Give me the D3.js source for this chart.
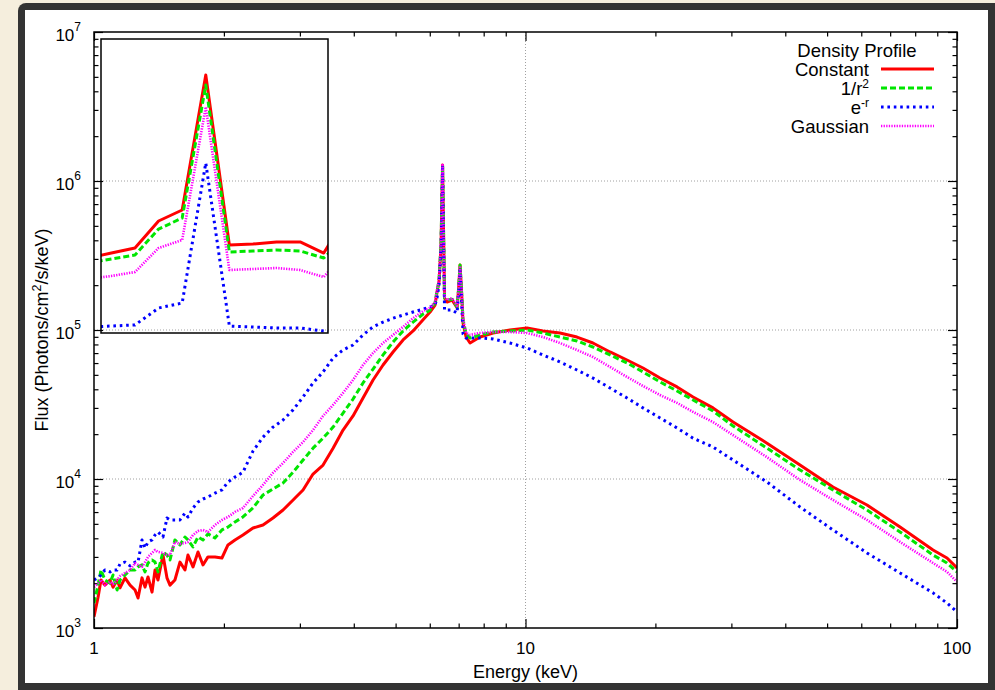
<!DOCTYPE html>
<html>
<head>
<meta charset="utf-8">
<script src="https://cdn.jsdelivr.net/npm/d3@7"></script>
<style>
  body { margin: 0; background: #f5eedd; }
  text { font-family: "Liberation Sans", Arial, Helvetica, sans-serif; fill: #000; }
</style>
</head>
<body>
<div id="chart-area"></div>
<script>

// energy grid (keV)
var energy = [1.000, 1.022, 1.038, 1.060, 1.089, 1.107, 1.131, 1.149, 1.180, 1.212,
  1.245, 1.265, 1.292, 1.313, 1.334, 1.363, 1.385, 1.407, 1.445, 1.476,
  1.500, 1.540, 1.582, 1.625, 1.651, 1.696, 1.742, 1.789, 1.837, 1.907,
  1.979, 2.044, 2.122, 2.214, 2.336, 2.464, 2.599, 2.742, 2.893, 3.051,
  3.218, 3.395, 3.581, 3.777, 3.984, 4.202, 4.433, 4.676, 4.932, 5.203,
  5.488, 5.789, 6.009, 6.171, 6.236, 6.303, 6.372, 6.424, 6.492, 6.579,
  6.757, 6.940, 6.995, 7.052, 7.109, 7.166, 7.282, 7.438, 7.845, 8.409,
  9.205, 10.08, 10.98, 12.02, 13.16, 14.33, 15.70, 17.19, 18.72, 20.50,
  22.45, 24.45, 27.20, 30.27, 36.28, 43.27, 51.60, 61.86, 73.80, 87.99,
  94.80, 100.0];

var fluxConstant = [1190, 1610, 2100, 1940, 2100, 1880, 2100, 1860, 2170, 1940,
  1800, 1590, 2170, 1880, 2200, 1740, 2450, 2100, 3090, 2170,
  1940, 2100, 2770, 2450, 3090, 2570, 3240, 2650, 3000, 3000,
  2950, 3610, 3900, 4210, 4690, 4910, 5470, 6190, 7230, 8440,
  10800, 12400, 16100, 21300, 26500, 35000, 46200, 58200, 71200, 85700,
  98500, 117000, 132000, 147000, 180000, 210000, 372000, 1280000, 164000, 154000,
  159000, 141000, 186000, 273000, 180000, 111000, 89700, 81800, 89700, 95500,
  100000, 103000, 98500, 95500, 89700, 81800, 71200, 62900, 55600, 47600,
  41500, 35500, 30000, 24100, 17400, 12400, 8840, 6690, 4760, 3340,
  2950, 2530];

var fluxInvR2 = [1470, 1940, 2450, 2100, 2000, 2270, 1800, 2100, 2270, 2450,
  2450, 2570, 2650, 2380, 2730, 2860, 2770, 2380, 3240, 3090,
  2860, 3900, 3610, 4080, 3900, 3500, 4080, 3900, 4280, 4020,
  4550, 4760, 5150, 5560, 6390, 7810, 8570, 9400, 11100, 13400,
  16100, 18800, 22300, 27700, 34400, 44100, 54700, 68000, 83100, 98500,
  113000, 128000, 136000, 152000, 183000, 213000, 384000, 1280000, 164000, 159000,
  161000, 143000, 186000, 273000, 183000, 117000, 94000, 88400, 92600, 97000,
  98500, 100000, 95500, 89700, 84400, 76900, 68000, 60100, 52300, 44800,
  39000, 33900, 28600, 22700, 16100, 11500, 8440, 6190, 4410, 3090,
  2730, 2380];

var fluxExp = [2100, 2170, 2270, 2450, 2380, 2450, 2450, 2690, 2770, 2610,
  2770, 2770, 3900, 3440, 3780, 3900, 4210, 4410, 4080, 5470,
  5310, 5310, 5310, 5910, 5560, 6390, 7010, 7340, 7570, 8050,
  8440, 9550, 10300, 11100, 15400, 19100, 22300, 24900, 29100, 35500,
  44100, 52300, 64900, 73400, 79300, 92600, 105000, 113000, 120000, 126000,
  132000, 138000, 143000, 147000, 164000, 200000, 344000, 1280000, 136000, 136000,
  136000, 130000, 172000, 253000, 159000, 94000, 88400, 88400, 88400, 87000,
  81800, 75700, 68000, 61000, 53900, 47600, 40800, 35000, 30000, 25700,
  22000, 18800, 16400, 13400, 9550, 6490, 4550, 3190, 2340, 1720,
  1470, 1280];

var fluxGauss = [1880, 2000, 2100, 1940, 2040, 1970, 2100, 2230, 2340, 2450,
  2730, 2650, 2570, 2770, 3000, 3190, 3340, 3240, 3190, 3090,
  3090, 3780, 3660, 3720, 3780, 4210, 4480, 4550, 4410, 4910,
  5310, 5560, 6010, 6390, 7690, 9120, 11000, 12800, 15200, 17700,
  21300, 26500, 31400, 37800, 46200, 58200, 70100, 81800, 92600, 105000,
  120000, 134000, 141000, 154000, 186000, 217000, 390000, 1280000, 167000, 159000,
  164000, 145000, 186000, 269000, 186000, 120000, 95500, 92600, 95500, 97000,
  97000, 95500, 89700, 81800, 73400, 65900, 56500, 48400, 42100, 36600,
  32400, 28200, 24100, 19700, 14000, 9850, 7230, 5310, 3780, 2730,
  2380, 2040];

// inset: zoom on the Fe K alpha line
var insetEnergy = [6.35, 6.36, 6.37, 6.38, 6.39, 6.40, 6.41, 6.42, 6.43, 6.44, 6.45, 6.46];
var insetConstant = [765e3, 816e3, 867e3, 1143e3, 1255e3, 2633e3, 898e3, 908e3, 929e3, 929e3, 816e3, 1204e3];
var insetInvR2 = [714e3, 755e3, 796e3, 1061e3, 1173e3, 2531e3, 827e3, 837e3, 847e3, 837e3, 765e3, 1000e3];
var insetExp = [61e3, 71e3, 82e3, 255e3, 306e3, 1735e3, 71e3, 61e3, 51e3, 51e3, 20e3, 0];
var insetGauss = [551e3, 582e3, 622e3, 867e3, 949e3, 2306e3, 643e3, 653e3, 663e3, 643e3, 571e3, 847e3];

var legendNames = ["Constant", "1/r", "e", "Gaussian"];
var legendSups = ["", "2", "-r", ""];
var xTickLabels = ["1", "10", "100"];
var yTickExps = ["3", "4", "5", "6", "7"];

var W = 995, H = 690;
var pLeft = 94, pRight = 957, pTop = 32, pBottom = 628;

var svg = d3.select("#chart-area")
  .append("svg")
    .attr("width", W)
    .attr("height", H);

// dark frame + white page
svg.append("rect")
  .attr("x", 18).attr("y", 3)
  .attr("width", 990).attr("height", 700)
  .attr("rx", 8).attr("ry", 8)
  .attr("fill", "#333333");
svg.append("rect")
  .attr("x", 25).attr("y", 10)
  .attr("width", 963).attr("height", 673)
  .attr("fill", "#ffffff");

var x = d3.scaleLog().domain([1, 100]).range([pLeft, pRight]);
var y = d3.scaleLog().domain([1e3, 1e7]).range([pBottom, pTop]);

var xMajor = [1, 10, 100];
var yMajor = [1e3, 1e4, 1e5, 1e6, 1e7];
var xMinor = [], yMinor = [];
[1, 10].forEach(function(dec) {
  for (var k = 2; k < 10; k++) xMinor.push(k * dec);
});
[1e3, 1e4, 1e5, 1e6].forEach(function(dec) {
  for (var k = 2; k < 10; k++) yMinor.push(k * dec);
});

// grid (dotted)
var grid = svg.append("g")
  .attr("stroke", "#a0a0a0")
  .attr("stroke-width", 1)
  .attr("stroke-dasharray", "1,2");
grid.selectAll(".gx").data([10]).enter().append("line")
  .attr("x1", function(d) { return x(d); })
  .attr("x2", function(d) { return x(d); })
  .attr("y1", pTop).attr("y2", pBottom);
grid.selectAll(".gy").data([1e4, 1e5, 1e6]).enter().append("line")
  .attr("y1", function(d) { return y(d); })
  .attr("y2", function(d) { return y(d); })
  .attr("x1", pLeft).attr("x2", pRight);

// axes ticks, all pointing inward
function tickAxis(axis, tr, values, size) {
  var g = svg.append("g")
    .attr("transform", tr)
    .call(axis.tickValues(values).tickSize(-size).tickFormat(""));
  g.select(".domain").remove();
  g.selectAll("line").attr("stroke", "#000").attr("stroke-width", 1.2);
}
tickAxis(d3.axisBottom(x), "translate(0," + pBottom + ")", xMajor, 9);
tickAxis(d3.axisBottom(x), "translate(0," + pBottom + ")", xMinor, 4.5);
tickAxis(d3.axisTop(x), "translate(0," + pTop + ")", xMajor, 9);
tickAxis(d3.axisTop(x), "translate(0," + pTop + ")", xMinor, 4.5);
tickAxis(d3.axisLeft(y), "translate(" + pLeft + ",0)", yMajor, 9);
tickAxis(d3.axisLeft(y), "translate(" + pLeft + ",0)", yMinor, 4.5);
tickAxis(d3.axisRight(y), "translate(" + pRight + ",0)", yMajor, 9);
tickAxis(d3.axisRight(y), "translate(" + pRight + ",0)", yMinor, 4.5);

// curves
svg.append("clipPath").attr("id", "plotclip")
  .append("rect")
  .attr("x", pLeft).attr("y", pTop)
  .attr("width", pRight - pLeft).attr("height", pBottom - pTop);

var styles = [
  { color: "#ff0000", width: 3, dash: null },
  { color: "#00e600", width: 3, dash: "6,3" },
  { color: "#0000ff", width: 3, dash: "2.6,3.8" },
  { color: "#ff00ff", width: 2.6, dash: "1.3,1.3" }
];

var mainSeries = [fluxConstant, fluxInvR2, fluxExp, fluxGauss];
var line = d3.line()
  .x(function(d) { return x(d[0]); })
  .y(function(d) { return y(d[1]); });

var curves = svg.append("g").attr("clip-path", "url(#plotclip)");
mainSeries.forEach(function(vals, i) {
  var pts = energy.map(function(e, j) { return [e, vals[j]]; });
  curves.append("path")
    .datum(pts)
    .attr("d", line)
    .attr("fill", "none")
    .attr("stroke", styles[i].color)
    .attr("stroke-width", styles[i].width)
    .attr("stroke-dasharray", styles[i].dash)
    .attr("stroke-linejoin", "round");
});

// plot border
svg.append("rect")
  .attr("x", pLeft).attr("y", pTop)
  .attr("width", pRight - pLeft).attr("height", pBottom - pTop)
  .attr("fill", "none").attr("stroke", "#000").attr("stroke-width", 1.5);

// inset
var ix0 = 101, ix1 = 328, iy0 = 39, iy1 = 333;
var ix = d3.scaleLinear().domain([6.3556, 6.4518]).range([ix0, ix1]);
var iy = d3.scaleLinear().domain([0, 3e6]).range([iy1, iy0]);

svg.append("clipPath").attr("id", "insetclip")
  .append("rect")
  .attr("x", ix0).attr("y", iy0)
  .attr("width", ix1 - ix0).attr("height", iy1 - iy0);

var iline = d3.line()
  .x(function(d) { return ix(d[0]); })
  .y(function(d) { return iy(d[1]); });

var insetSeries = [insetConstant, insetInvR2, insetExp, insetGauss];
var insetG = svg.append("g").attr("clip-path", "url(#insetclip)");
insetSeries.forEach(function(vals, i) {
  var pts = insetEnergy.map(function(e, j) { return [e, vals[j]]; });
  insetG.append("path")
    .datum(pts)
    .attr("d", iline)
    .attr("fill", "none")
    .attr("stroke", styles[i].color)
    .attr("stroke-width", styles[i].width)
    .attr("stroke-dasharray", styles[i].dash)
    .attr("stroke-linejoin", "round");
});

svg.append("rect")
  .attr("x", ix0).attr("y", iy0)
  .attr("width", ix1 - ix0).attr("height", iy1 - iy0)
  .attr("fill", "none").attr("stroke", "#000").attr("stroke-width", 1.5);

// tick labels
svg.selectAll(".xlab").data(xMajor).enter().append("text")
  .attr("x", function(d) { return x(d); })
  .attr("y", pBottom + 26)
  .attr("text-anchor", "middle")
  .style("font-size", "17px")
  .text(function(d, i) { return xTickLabels[i]; });

var ylab = svg.selectAll(".ylab").data(yMajor).enter().append("text")
  .attr("x", 81)
  .attr("y", function(d) { return y(d) + 9; })
  .attr("text-anchor", "end")
  .style("font-size", "17px");
ylab.append("tspan").text("10");
ylab.append("tspan")
  .attr("dy", -10)
  .style("font-size", "12px")
  .text(function(d, i) { return yTickExps[i]; });

// axis titles
svg.append("text")
  .attr("x", (pLeft + pRight) / 2)
  .attr("y", 678)
  .attr("text-anchor", "middle")
  .style("font-size", "18px")
  .text("Energy (keV)");

var ytitle = svg.append("text")
  .attr("transform", "translate(48," + ((pTop + pBottom) / 2) + ") rotate(-90)")
  .attr("text-anchor", "middle")
  .style("font-size", "18px");
ytitle.append("tspan").text("Flux (Photons/cm");
ytitle.append("tspan").attr("dy", -7).style("font-size", "12.5px").text("2");
ytitle.append("tspan").attr("dy", 7).text("/s/keV)");

// legend
svg.append("text")
  .attr("x", 857).attr("y", 57)
  .attr("text-anchor", "middle")
  .style("font-size", "18.5px")
  .text("Density Profile");

var legendY = [69, 88, 107, 126];
legendNames.forEach(function(name, i) {
  var t = svg.append("text")
    .attr("x", 869).attr("y", legendY[i] + 7)
    .attr("text-anchor", "end")
    .style("font-size", "18.5px");
  t.append("tspan").text(name);
  if (legendSups[i]) {
    t.append("tspan").attr("dy", -7.5).style("font-size", "12px").text(legendSups[i]);
  }
  svg.append("line")
    .attr("x1", 881).attr("x2", 934)
    .attr("y1", legendY[i]).attr("y2", legendY[i])
    .attr("stroke", styles[i].color)
    .attr("stroke-width", styles[i].width)
    .attr("stroke-dasharray", styles[i].dash);
});

</script>
</body>
</html>
